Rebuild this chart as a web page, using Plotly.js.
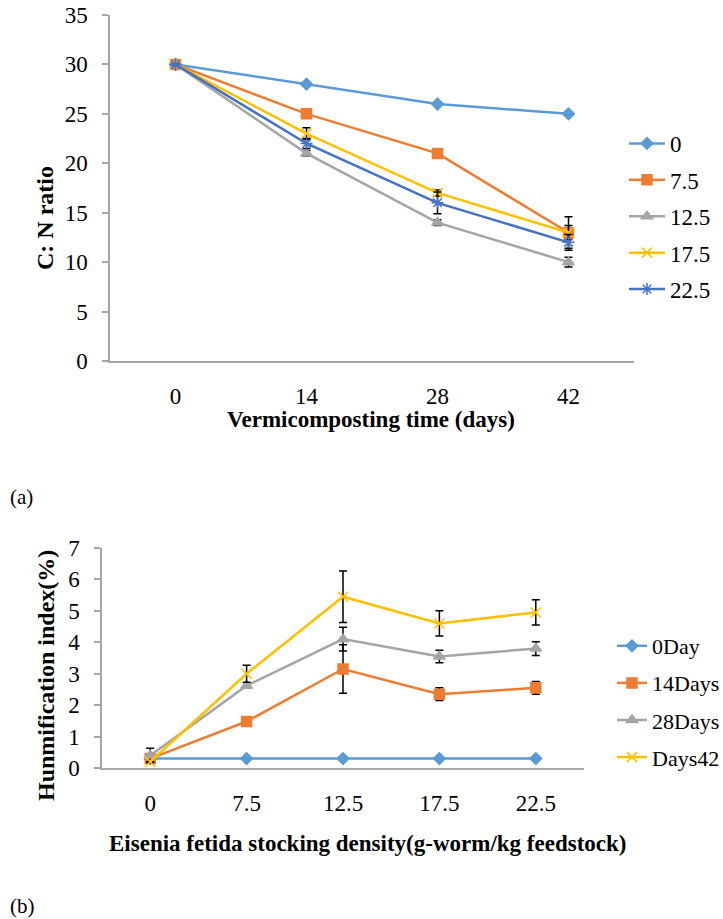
<!DOCTYPE html>
<html><head><meta charset="utf-8">
<script src="https://cdn.plot.ly/plotly-3.0.1.min.js"></script>
<style>html,body{margin:0;padding:0;background:#fff}</style>
</head><body>
<div id="chart" style="width:723px;height:919px"></div>
<script>
// ---- Panel (a): C:N ratio ----
const daysA = ['0','14','28','42'];
const seriesNamesA = ['0','7.5','12.5','17.5','22.5'];
const cn_0    = [30, 28, 26, 25];
const cn_7_5  = [30, 25, 21, 13];
const cn_12_5 = [30, 21, 14, 10];
const cn_17_5 = [30, 23, 17, 13];
const cn_22_5 = [30, 22, 16, 12];
const cnErr_0    = [0, 0, 0, 0];
const cnErr_7_5  = [0, 0, 0, 1.6];
const cnErr_12_5 = [0, 0.3, 0.3, 0.5];
const cnErr_17_5 = [0, 0.6, 0.3, 0.7];
const cnErr_22_5 = [0, 0.5, 1.1, 0.8];

// ---- Panel (b): Humification index ----
const densityB = ['0','7.5','12.5','17.5','22.5'];
const seriesNamesB = ['0Day','14Days','28Days','Days42'];
const hi_0day   = [0.3, 0.3, 0.3, 0.3, 0.3];
const hi_14days = [0.3, 1.48, 3.15, 2.35, 2.55];
const hi_28days = [0.4, 2.62, 4.1, 3.55, 3.8];
const hi_42days = [0.2, 3.0, 5.45, 4.6, 4.95];
const hiErr_0day   = [0, 0, 0, 0, 0];
const hiErr_14days = [0, 0, 0.77, 0.2, 0.2];
const hiErr_28days = [0.23, 0, 0.38, 0.2, 0.22];
const hiErr_42days = [0, 0.27, 0.82, 0.4, 0.4];

const titleA_x = 'Vermicomposting time (days)';
const titleA_y = 'C: N ratio';
const titleB_x = 'Eisenia fetida stocking density(g-worm/kg feedstock)';
const titleB_y = 'Hunmification index(%)';

const colors = ['#5B9BD5','#ED7D31','#A5A5A5','#FFC000','#4472C4'];
const symbols = ['diamond','square','triangle-up','x-thin-open','asterisk-open'];
const sizes = [9, 10, 10, 10, 10];
const FONT = '"Liberation Serif", "Times New Roman", serif';

function mk(x, y, err, name, i, xa, ya, leg) {
  return {
    type: 'scatter', mode: 'lines+markers', x: x, y: y, name: name,
    xaxis: xa, yaxis: ya, legend: leg, legendgroup: leg + name,
    line: {color: colors[i], width: 2.5},
    marker: {symbol: symbols[i], size: sizes[i], color: colors[i],
             line: {color: colors[i], width: 1.5}},
    error_y: {type: 'data', array: err, visible: true, color: '#000',
              thickness: 1.5, width: 4}
  };
}

const dataA = [cn_0, cn_7_5, cn_12_5, cn_17_5, cn_22_5];
const errA = [cnErr_0, cnErr_7_5, cnErr_12_5, cnErr_17_5, cnErr_22_5];
const dataB = [hi_0day, hi_14days, hi_28days, hi_42days];
const errB = [hiErr_0day, hiErr_14days, hiErr_28days, hiErr_42days];

const traces = [];
dataA.forEach((d, i) => traces.push(mk(daysA, d, errA[i], seriesNamesA[i], i, 'x', 'y', 'legend')));
dataB.forEach((d, i) => traces.push(mk(densityB, d, errB[i], seriesNamesB[i], i, 'x2', 'y2', 'legend2')));

const W = 723, H = 919;
const px = v => v / W, py = v => 1 - v / H;
const axLine = '#a6a6a6';
const tickFont = {family: FONT, size: 23, color: '#000'};
const titleFont = {family: FONT, size: 23, color: '#000', weight: 'bold'};
const yTitleFont = {family: FONT, size: 24, color: '#000', weight: 'bold'};
const legFont = {family: FONT, size: 23, color: '#000'};
const legFont2 = {family: FONT, size: 22, color: '#000'};

const xBase = {type: 'category', showline: true, linecolor: axLine, linewidth: 1.5,
  ticks: '', showgrid: false, zeroline: false, tickfont: tickFont,
  ticklabelstandoff: 14, fixedrange: true, automargin: false};
const yBase = {showline: true, linecolor: axLine, linewidth: 1.5, ticks: 'outside',
  ticklen: 6, tickcolor: axLine, tickwidth: 1.5, showgrid: false, zeroline: false,
  tickfont: tickFont, ticklabelstandoff: 10, fixedrange: true, automargin: false};

function ann(text, x, y, font, angle) {
  return {text: text, xref: 'paper', yref: 'paper', x: px(x), y: py(y),
    xanchor: 'center', yanchor: 'middle', showarrow: false, font: font, textangle: angle || 0};
}

const layout = {
  width: W, height: H, margin: {l: 0, r: 0, t: 0, b: 0, autoexpand: false},
  paper_bgcolor: '#fff', plot_bgcolor: '#fff', showlegend: true,
  font: {family: FONT, color: '#000'},
  xaxis: Object.assign({}, xBase, {domain: [px(110), px(634)], range: [-0.5, 3.5], anchor: 'y'}),
  yaxis: Object.assign({}, yBase, {domain: [py(361), py(15)], range: [0, 35], dtick: 5, anchor: 'x'}),
  xaxis2: Object.assign({}, xBase, {domain: [px(102), px(584)], range: [-0.5, 4.5], anchor: 'y2'}),
  yaxis2: Object.assign({}, yBase, {domain: [py(768), py(548)], range: [0, 7], dtick: 1, anchor: 'x2'}),
  legend: {xref: 'container', yref: 'container', x: px(624), y: py(122), xanchor: 'left', yanchor: 'top',
    bgcolor: 'rgba(0,0,0,0)', font: legFont, tracegroupgap: 3.5, itemclick: false, itemwidth: 36},
  legend2: {xref: 'container', yref: 'container', x: px(612), y: py(625), xanchor: 'left', yanchor: 'top',
    bgcolor: 'rgba(0,0,0,0)', font: legFont2, tracegroupgap: 5.5, itemclick: false, itemwidth: 30},
  annotations: [
    ann(titleA_x, 371, 419, titleFont),
    ann(titleA_y, 45, 218, yTitleFont, -90),
    ann(titleB_x, 367, 843, titleFont),
    ann(titleB_y, 46, 676, yTitleFont, -90),
    {text: '(a)', xref: 'paper', yref: 'paper', x: px(8), y: py(497), xanchor: 'left', yanchor: 'middle',
     showarrow: false, font: {family: FONT, size: 21, color: '#000'}},
    {text: '(b)', xref: 'paper', yref: 'paper', x: px(8), y: py(906), xanchor: 'left', yanchor: 'middle',
     showarrow: false, font: {family: FONT, size: 21, color: '#000'}}
  ]
};

Plotly.newPlot('chart', traces, layout, {displayModeBar: false});
</script>
</body></html>
